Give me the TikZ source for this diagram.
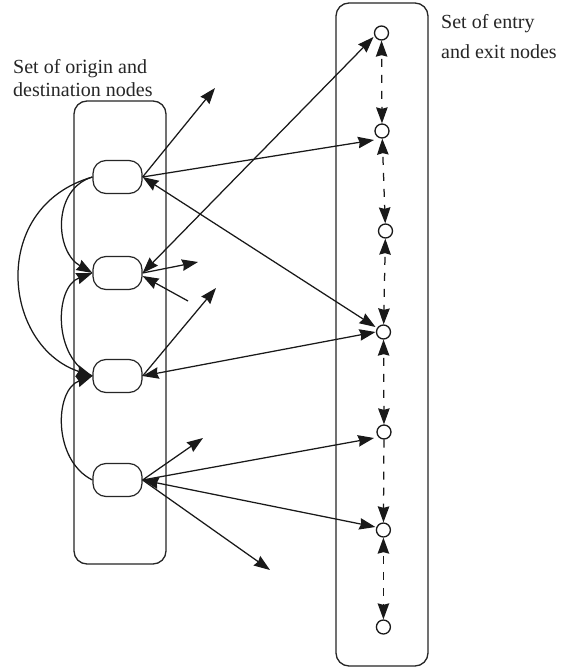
\documentclass[tikz,border=0pt]{standalone}
\usepackage{fontspec}
\setmainfont{Liberation Serif}
\usetikzlibrary{arrows.meta}
\tikzset{
  frame/.style={draw=black!85,line width=1.3pt,rectangle,rounded corners=13pt,inner sep=0pt},
  oval/.style={draw=black!85,line width=1.2pt,rectangle,rounded corners=13pt,minimum width=49pt,minimum height=33pt,inner sep=0pt,fill=white},
  dot/.style={draw=black!90,line width=1.3pt,circle,minimum size=14pt,inner sep=0pt,fill=white},
  headtip/.tip={Stealth[length=16pt,width=11.5pt,inset=1.5pt]},
  link/.style={draw=black!90,line width=1.25pt,-headtip},
  both/.style={draw=black!90,line width=1.25pt,headtip-headtip},
  dashlink/.style={both,dash pattern=on 8pt off 8pt,dash phase=12pt},
  dashone/.style={link,dash pattern=on 8pt off 8pt,dash phase=0pt},
  caption/.style={inner sep=0pt,align=left,anchor=north west,text=black!85}
}
\begin{document}
\begin{tikzpicture}[x=1pt,y=-1pt]
\useasboundingbox (0,0) rectangle (570,671);
\fill[white] (0,0) rectangle (570,671);
\node[frame,minimum width=92pt,minimum height=463pt] (L) at (120,332.5) {};
\node[frame,minimum width=92pt,minimum height=663pt] (R) at (382,334.5) {};
\node[caption,font=\fontsize{20}{23}\selectfont] (t1) at (13,59) {Set of origin and\\destination nodes};
\node[caption,font=\fontsize{20}{30}\selectfont] (t2) at (441,14) {Set of entry\\and exit nodes};
\node[oval] (O1) at (117.5,177) {};
\node[oval] (O2) at (117.5,273) {};
\node[oval] (O3) at (117.5,376) {};
\node[oval] (O4) at (117.5,480) {};
\node[dot] (N1) at (381.5,33) {};
\node[dot] (N2) at (382,131) {};
\node[dot] (N3) at (385.5,231) {};
\node[dot] (N4) at (383.5,332) {};
\node[dot] (N5) at (384,432) {};
\node[dot] (N6) at (383.4,530) {};
\node[dot] (N7) at (383.4,627) {};
\coordinate (a1) at (215,88);
\coordinate (a2) at (198,262);
\coordinate (a3) at (188,301);
\coordinate (a4) at (216,288);
\coordinate (a5) at (203,438);
\coordinate (a6) at (270,570);
% vertical dashed links
\draw[dashlink] (N1) -- (N2);
\draw[dashlink] (N2) -- (N3);
\draw[dashlink] (N3) -- (N4);
\draw[dashlink] (N4) -- (N5);
\draw[dashone] (N5) -- (N6);
\draw[dashlink] (N6) -- (N7);
% origin to free ends
\draw[link] (O1.east) -- (a1);
\draw[link] (O2.east) -- (a2);
\draw[link] (a3) -- ([yshift=-3pt]O2.east);
\draw[link] (O3.east) -- (a4);
\draw[link] (O4.east) -- (a5);
\draw[link] (O4.east) -- (a6);
% origin to entry and exit
\draw[both] (O2.east) -- ([xshift=-8pt,yshift=-4pt]N1.center);
\draw[link] (O1.east) -- ([xshift=-8pt,yshift=-9pt]N2.center);
\draw[both] (O1.east) -- ([xshift=-8pt,yshift=5pt]N4.center);
\draw[both] (O3.east) -- ([xshift=-8pt]N4.center);
\draw[link] (O4.east) -- ([xshift=-10pt,yshift=-6pt]N5.center);
\draw[both] (O4.east) -- ([xshift=-8pt,yshift=3pt]N6.center);
% curved links
\draw[link] (O1.west) .. controls +(-40,12) and +(-38,-22) .. (O2.west);
\draw[link] (O1.west) .. controls +(-104,30) and +(-90,-30) .. (O3.west);
\draw[link] (O3.west) .. controls +(-40,-18) and +(-38,14) .. (O2.west);
\draw[link] (O4.west) .. controls +(-40,-20) and +(-38,14) .. (O3.west);
\end{tikzpicture}
\end{document}
